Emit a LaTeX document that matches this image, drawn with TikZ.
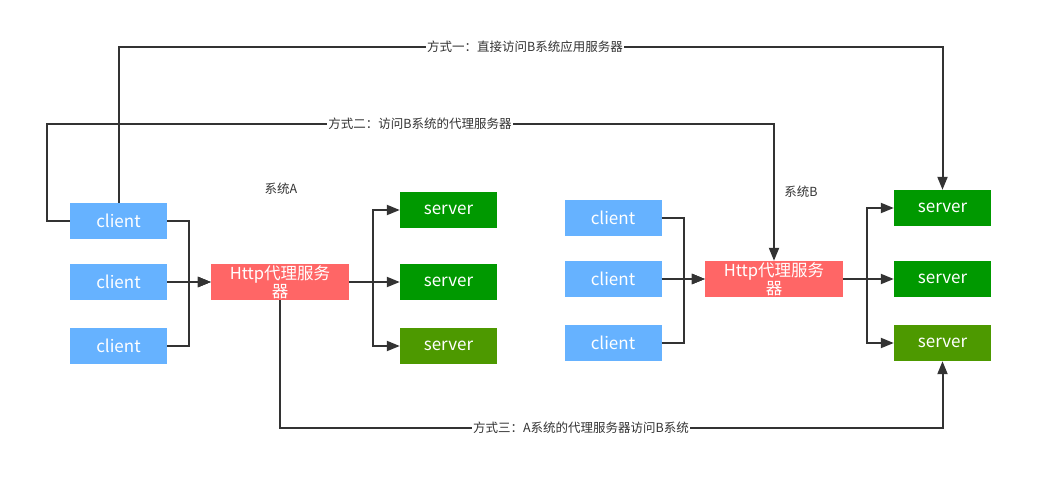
\documentclass[tikz,border=0pt]{standalone}
\usepackage{fontspec}
\setmainfont{Noto Sans CJK SC}
\usetikzlibrary{arrows.meta}
\definecolor{clientc}{HTML}{66B2FF}
\definecolor{proxyc}{HTML}{FF6666}
\definecolor{serverc}{HTML}{009900}
\definecolor{serverd}{HTML}{4D9900}
\definecolor{linec}{HTML}{333333}
\begin{document}
\begin{tikzpicture}[x=1pt,y=-1pt,
  box/.style={minimum width=97pt,minimum height=36pt,inner sep=0pt,text=white,font=\fontsize{17}{19}\selectfont},
  clientbox/.style={box,fill=clientc},
  serverbox/.style={box,fill=serverc},
  serverdbox/.style={box,fill=serverd},
  proxybox/.style={box,fill=proxyc,minimum width=138pt,font=\fontsize{16.5}{20}\selectfont,align=center},
  arr/.style={draw=linec,line width=2pt,-{Triangle[length=13pt,width=10pt]}},
  lbl/.style={fill=white,inner sep=1pt,text=linec,font=\fontsize{12.5}{14}\selectfont},
  sys/.style={text=linec,font=\fontsize{12.5}{14}\selectfont}]
\useasboundingbox (0,0) rectangle (1055,490);
% System A
\node[clientbox] (cA1) at (118.5,221) {client};
\node[clientbox] (cA2) at (118.5,282) {client};
\node[clientbox] (cA3) at (118.5,346) {client};
\node[proxybox] (pA) at (280,282) {Http代理服务\\[-2pt]器};
\node[serverbox] (sA1) at (448.5,210) {server};
\node[serverbox] (sA2) at (448.5,282) {server};
\node[serverdbox] (sA3) at (448.5,346) {server};
\node[sys] (labA) at (281,189) {系统A};
% System B
\node[clientbox] (cB1) at (613,218) {client};
\node[clientbox] (cB2) at (613,279) {client};
\node[clientbox] (cB3) at (613,343) {client};
\node[proxybox] (pB) at (774,279) {Http代理服务\\[-2pt]器};
\node[serverbox] (sB1) at (942.5,208) {server};
\node[serverbox] (sB2) at (942.5,279) {server};
\node[serverdbox] (sB3) at (942.5,343) {server};
\node[sys] (labB) at (801,192) {系统B};
% internal connectors A
\draw[arr] (cA1.east) -- ++(22,0) |- (pA.west);
\draw[arr] (cA2.east) -- (pA.west);
\draw[arr] (cA3.east) -- ++(22,0) |- (pA.west);
\draw[arr] (pA.east) -- ++(24,0) |- (sA1.west);
\draw[arr] (pA.east) -- (sA2.west);
\draw[arr] (pA.east) -- ++(24,0) |- (sA3.west);
% internal connectors B
\draw[arr] (cB1.east) -- ++(22,0) |- (pB.west);
\draw[arr] (cB2.east) -- (pB.west);
\draw[arr] (cB3.east) -- ++(22,0) |- (pB.west);
\draw[arr] (pB.east) -- ++(24,0) |- (sB1.west);
\draw[arr] (pB.east) -- (sB2.west);
\draw[arr] (pB.east) -- ++(24,0) |- (sB3.west);
% long connectors
\draw[arr] (cA1.north) -- (cA1.north |- 0,47) -- (sB1.north |- 0,47) -- (sB1.north);
\draw[arr] (cA1.west) -- ++(-23,0) -- ++(0,-97) -- (pB.north |- 0,124) -- (pB.north);
\draw[arr] (pA.south) -- (pA.south |- 0,428) -- (sB3.south |- 0,428) -- (sB3.south);
\node[lbl] (l1) at (525,47) {方式一：直接访问B系统应用服务器};
\node[lbl] (l2) at (420,124) {方式二：访问B系统的代理服务器};
\node[lbl] (l3) at (581,428) {方式三：A系统的代理服务器访问B系统};
\end{tikzpicture}
\end{document}
